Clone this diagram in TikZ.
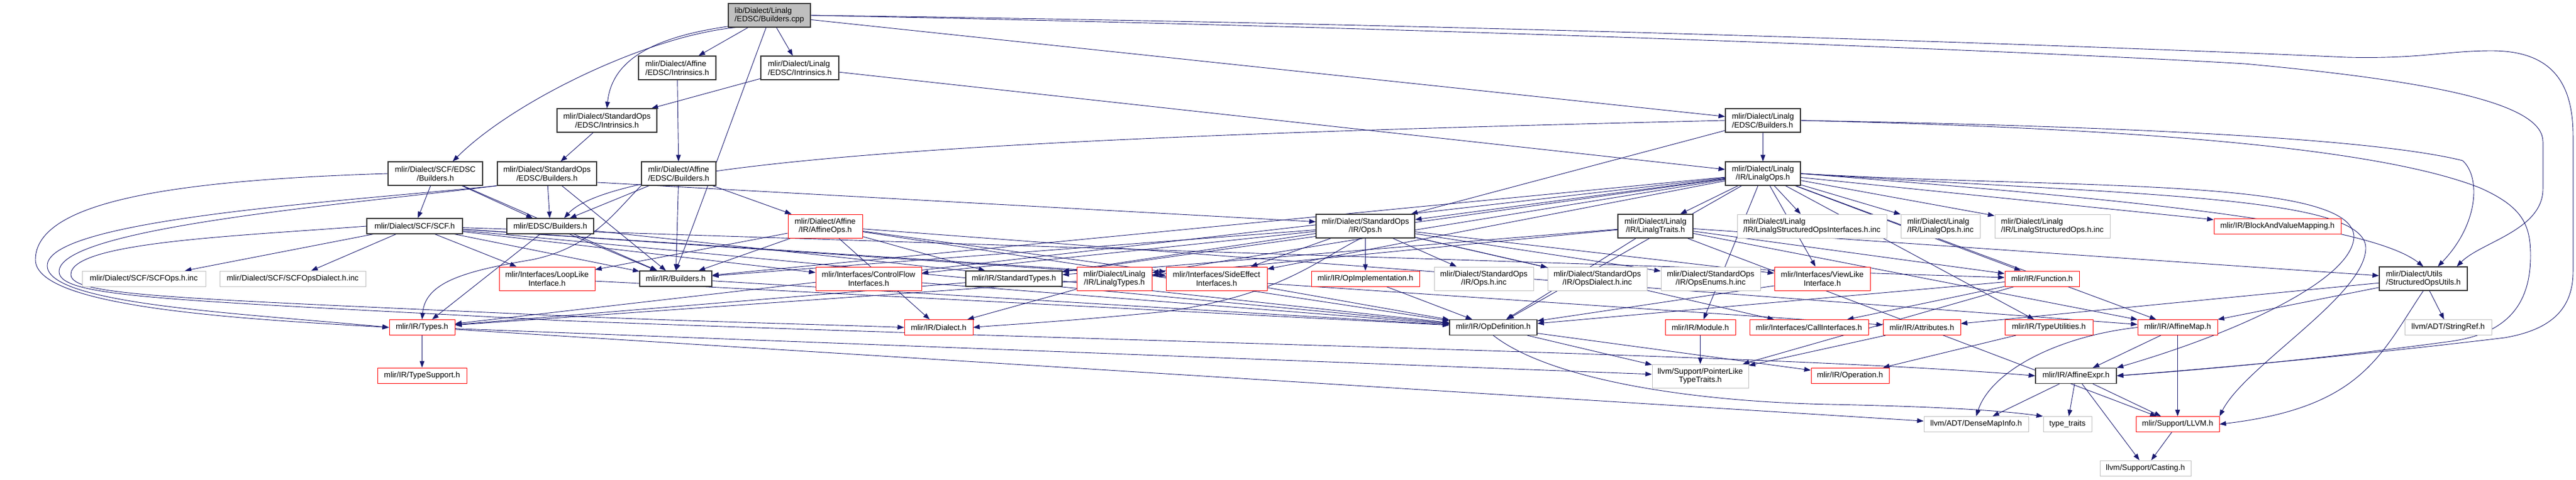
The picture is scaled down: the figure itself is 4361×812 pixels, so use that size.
\documentclass[tikz,border=0pt]{standalone}
\usepackage{fontspec}
\newfontfamily\dfont{Liberation Sans}
\usetikzlibrary{arrows.meta,backgrounds}
\definecolor{edgeblue}{HTML}{191970}
\definecolor{grey75}{HTML}{BFBFBF}
\newcommand{\edg}[2]{\draw[lnk] (#1) -- (#2);}
\begin{document}
\begin{tikzpicture}[x=1pt,y=-1pt,
  box/.style={rectangle,fill=white,inner sep=0pt,line width=1pt,font=\dfont\fontsize{13.3pt}{14.7pt}\selectfont,align=center},
  blk/.style={box,draw=black!80,line width=1.2pt},
  rbox/.style={box,draw=red},
  gbox/.style={box,draw=grey75},
  sz/.style 2 args={minimum width=#1pt,minimum height=#2pt},
  lnk/.style={draw=edgeblue,line width=0.9pt,-{Triangle[length=11pt,width=8pt]}},
]
\useasboundingbox (0,0) rectangle (4361,812);
% ---------- nodes ----------
\node[blk,fill=grey75,align=left,sz={139}{40}] (cpp) at (1302.5,26) {lib/Dialect/Linalg\\/EDSC/Builders.cpp};
\node[blk,align=left,sz={131}{40}] (AEI) at (1146.5,115) {mlir/Dialect/Affine\\/EDSC/Intrinsics.h};
\node[blk,align=left,sz={132}{40}] (LEI) at (1354,115) {mlir/Dialect/Linalg\\/EDSC/Intrinsics.h};
\node[blk,sz={169}{40}] (SOEI) at (1027.5,204) {mlir/Dialect/StandardOps\\/EDSC/Intrinsics.h};
\node[blk,align=left,sz={127}{40}] (LEB) at (2984.5,204) {mlir/Dialect/Linalg\\/EDSC/Builders.h};
\node[blk,sz={160}{40}] (SCFEB) at (737,294) {mlir/Dialect/SCF/EDSC\\/Builders.h};
\node[blk,sz={168}{40}] (SOEB) at (926,294) {mlir/Dialect/StandardOps\\/EDSC/Builders.h};
\node[blk,sz={126}{40}] (AEB) at (1149,294) {mlir/Dialect/Affine\\/EDSC/Builders.h};
\node[blk,sz={127}{40}] (LOps) at (2984.5,294) {mlir/Dialect/Linalg\\/IR/LinalgOps.h};
\node[blk,sz={162}{26}] (SCF) at (702,383) {mlir/Dialect/SCF/SCF.h};
\node[blk,sz={147}{26}] (EB) at (931.5,383) {mlir/EDSC/Builders.h};
\node[rbox,sz={126}{40}] (AOps) at (1397,383) {mlir/Dialect/Affine\\/IR/AffineOps.h};
\node[blk,sz={167}{40}] (SOps) at (2311.5,383) {mlir/Dialect/StandardOps\\/IR/Ops.h};
\node[blk,sz={127}{40}] (LTraits) at (2802.5,383) {mlir/Dialect/Linalg\\/IR/LinalgTraits.h};
\node[gbox,align=left,sz={253}{40}] (LSOI) at (3067.5,383) {mlir/Dialect/Linalg\\/IR/LinalgStructuredOpsInterfaces.h.inc};
\node[gbox,align=left,sz={134}{40}] (LOinc) at (3285,383) {mlir/Dialect/Linalg\\/IR/LinalgOps.h.inc};
\node[gbox,align=left,sz={195}{40}] (LSOinc) at (3474.5,383) {mlir/Dialect/Linalg\\/IR/LinalgStructuredOps.h.inc};
\node[rbox,sz={215}{26}] (BVM) at (3855.5,383) {mlir/IR/BlockAndValueMapping.h};
% row 472
\node[gbox,sz={209}{26}] (SCFOinc) at (243.5,472) {mlir/Dialect/SCF/SCFOps.h.inc};
\node[gbox,sz={247}{26}] (SCFODinc) at (495.5,472) {mlir/Dialect/SCF/SCFOpsDialect.h.inc};
\node[rbox,sz={162}{40}] (LoopLike) at (926,472) {mlir/Interfaces/LoopLike\\Interface.h};
\node[blk,sz={122}{26}] (IRB) at (1144,472) {mlir/IR/Builders.h};
\node[rbox,sz={179}{40}] (CF) at (1470.5,472) {mlir/Interfaces/ControlFlow\\Interfaces.h};
\node[blk,sz={163}{26}] (ST) at (1716.5,472) {mlir/IR/StandardTypes.h};
\node[rbox,sz={127}{40}] (LTypes) at (1886.5,472) {mlir/Dialect/Linalg\\/IR/LinalgTypes.h};
\node[rbox,sz={171}{40}] (SE) at (2059.5,472) {mlir/Interfaces/SideEffect\\Interfaces.h};
\node[rbox,sz={183}{26}] (OpImpl) at (2311.5,472) {mlir/IR/OpImplementation.h};
\node[gbox,sz={168}{40}] (OpsInc) at (2512,472) {mlir/Dialect/StandardOps\\/IR/Ops.h.inc};
\node[gbox,sz={168}{40}] (OpsDInc) at (2704,472) {mlir/Dialect/StandardOps\\/IR/OpsDialect.h.inc};
\node[gbox,sz={168}{40}] (OpsEInc) at (2896,472) {mlir/Dialect/StandardOps\\/IR/OpsEnums.h.inc};
\node[rbox,sz={162}{40}] (VL) at (3085,472) {mlir/Interfaces/ViewLike\\Interface.h};
\node[rbox,sz={126}{26}] (Func) at (3457,472) {mlir/IR/Function.h};
\node[blk,align=left,sz={149}{40}] (SOU) at (4102.5,472) {mlir/Dialect/Utils\\/StructuredOpsUtils.h};
% row 554
\node[rbox,sz={111}{26}] (Types) at (714.5,554.5) {mlir/IR/Types.h};
\node[rbox,sz={116}{26}] (Dialect) at (1589,554.5) {mlir/IR/Dialect.h};
\node[blk,sz={148}{26}] (OpDef) at (2528,554.5) {mlir/IR/OpDefinition.h};
\node[rbox,sz={119}{26}] (Module) at (2878.5,554.5) {mlir/IR/Module.h};
\node[rbox,sz={201}{26}] (CallI) at (3062.5,554.5) {mlir/Interfaces/CallInterfaces.h};
\node[rbox,sz={131}{26}] (Attr) at (3253.5,554.5) {mlir/IR/Attributes.h};
\node[rbox,sz={149}{26}] (TU) at (3468.5,554.5) {mlir/IR/TypeUtilities.h};
\node[rbox,sz={135}{26}] (AMap) at (3686.5,554.5) {mlir/IR/AffineMap.h};
\node[gbox,sz={147}{26}] (StrRef) at (4144.5,554.5) {llvm/ADT/StringRef.h};
% row 636
\node[rbox,sz={151}{26}] (TypeSupport) at (714.5,636) {mlir/IR/TypeSupport.h};
\node[gbox,sz={163}{40}] (PLTT) at (2878.5,637) {llvm/Support/PointerLike\\TypeTraits.h};
\node[rbox,sz={132}{26}] (Operation) at (3132,636) {mlir/IR/Operation.h};
\node[blk,sz={137}{26}] (AExpr) at (3514.5,636.5) {mlir/IR/AffineExpr.h};
% row 718
\node[gbox,sz={177}{26}] (DMI) at (3345.5,718.5) {llvm/ADT/DenseMapInfo.h};
\node[gbox,sz={82}{26}] (TT) at (3500,718.5) {type\_traits};
\node[rbox,sz={141}{26}] (LLVM) at (3686.5,718.5) {mlir/Support/LLVM.h};
\node[gbox,sz={154}{26}] (Casting) at (3632,793) {llvm/Support/Casting.h};
% ---------- edges ----------
\begin{pgfonlayer}{background}
\fill[white] (0,0) rectangle (4361,812);
% cpp
\draw[lnk] (cpp.200) .. controls (1100,60) and (870,170) .. (SCFEB.35);
\draw[lnk] (cpp.195) .. controls (1090,65) and (1035,110) .. (SOEI.north);
\edg{cpp}{AEI}
\edg{cpp}{LEI}
\draw[lnk] (cpp.255) .. controls (1240,200) and (1175,380) .. (IRB.north);
\edg{cpp}{LEB}
\draw[lnk] (cpp.east) .. controls (2500,40) and (3600,80) .. (3972,97) .. controls (4100,100) and (4140,86) .. (4218,86) .. controls (4320,86) and (4356,140) .. (4356,230) -- (4356,460) .. controls (4356,530) and (4310,560) .. (4240,572) .. controls (4050,595) and (3800,620) .. (AExpr.east);
\draw[lnk] (cpp.east) .. controls (2500,48) and (3500,90) .. (3800,108) .. controls (4150,140) and (4305,180) .. (4305,240) -- (4305,320) .. controls (4305,390) and (4200,410) .. (SOU.20);
% intrinsics
\edg{AEI}{AEB}
\edg{LEI}{SOEI}
\edg{LEI}{LOps}
\edg{SOEI}{SOEB}
% SCF/EDSC/Builders
\draw[lnk] (SCFEB.west) .. controls (300,305) and (60,340) .. (60,440) .. controls (60,520) and (400,540) .. (Types.west);
\edg{SCFEB}{SCF}
\edg{SCFEB}{IRB}
\edg{SCFEB}{EB}
% StandardOps/EDSC/Builders
\draw[lnk] (SOEB.south west) .. controls (600,340) and (80,370) .. (80,450) .. controls (80,515) and (400,530) .. (Types.west);
\draw[lnk] (SOEB.south west) .. controls (600,345) and (100,385) .. (100,460) .. controls (100,505) and (300,508) .. (950,543) .. controls (2000,583) and (3000,600) .. (AExpr.west);
\edg{SOEB}{EB}
\edg{SOEB}{IRB}
\draw[lnk] (SOEB.-10) -- (SOps.175);
% Affine/EDSC/Builders
\edg{AEB}{EB}
\edg{AEB}{IRB}
\edg{AEB}{AOps}
\draw[lnk] (AEB.south west) .. controls (1040,360) and (1000,420) .. (900,440) .. controls (780,460) and (720,480) .. (Types.north);
% Linalg/EDSC/Builders
\edg{LEB}{LOps}
\draw[lnk] (LEB.west) .. controls (1800,230) and (1050,265) .. (EB.30);
\edg{LEB}{SOps}
\draw[lnk] (LEB.east) .. controls (3500,212) and (4000,230) .. (4169,272) .. controls (4200,300) and (4196,380) .. (SOU.40);
\draw[lnk] (LEB.east) .. controls (3500,215) and (4000,240) .. (4198,318) .. controls (4270,350) and (4284,380) .. (4284,433) .. controls (4284,520) and (4240,565) .. (4150,578) .. controls (3950,605) and (3750,625) .. (AExpr.east);
% LinalgOps
\edg{LOps}{LTraits}
\edg{LOps}{LTypes}
\edg{LOps}{SOps}
\edg{LOps}{AMap}
\edg{LOps}{BVM}
\edg{LOps}{IRB}
\edg{LOps}{Func}
\edg{LOps}{Module}
\edg{LOps}{OpDef}
\edg{LOps}{ST}
\edg{LOps}{TU}
\edg{LOps}{Types}
\edg{LOps}{SE}
\edg{LOps}{VL}
\edg{LOps}{LSOI}
\edg{LOps}{LOinc}
\edg{LOps}{LSOinc}
\draw[lnk] (LOps.east) .. controls (3500,330) and (4000,370) .. (SOU.north);
\draw[lnk] (LOps.east) .. controls (3500,320) and (3980,300) .. (3985,400) .. controls (3985,470) and (3800,560) .. (AExpr.north east);
\draw[lnk] (LOps.east) .. controls (3600,330) and (4005,330) .. (4005,420) .. controls (4005,500) and (3800,620) .. (LLVM.north east);
% SCF
\edg{SCF}{SCFOinc}
\edg{SCF}{SCFODinc}
\edg{SCF}{LoopLike}
\edg{SCF}{IRB}
\edg{SCF}{CF}
\edg{SCF}{SE}
\edg{SCF}{OpDef}
\edg{SCF}{Func}
\edg{SCF}{Attr}
\draw[lnk] (SCF.west) .. controls (400,400) and (120,410) .. (120,465) .. controls (120,502) and (300,505) .. (1000,537) .. controls (1200,545) and (1400,550) .. (Dialect.west);
% EDSC/Builders
\edg{EB}{Types}
\edg{EB}{IRB}
\edg{EB}{OpDef}
% AffineOps
\edg{AOps}{AMap}
\edg{AOps}{IRB}
\edg{AOps}{OpDef}
\edg{AOps}{ST}
\edg{AOps}{LoopLike}
\edg{AOps}{SE}
\edg{AOps}{Dialect}
% StandardOps/IR/Ops
\edg{SOps}{IRB}
\edg{SOps}{CF}
\edg{SOps}{ST}
\edg{SOps}{SE}
\draw[lnk] (SOps.250) .. controls (2230,440) and (2170,500) .. (1970,528) .. controls (1800,545) and (1700,550) .. (Dialect.east);
\edg{SOps}{OpImpl}
\edg{SOps}{OpsInc}
\edg{SOps}{OpsDInc}
\edg{SOps}{OpsEInc}
\edg{SOps}{VL}
\edg{SOps}{CallI}
% LinalgTraits
\edg{LTraits}{LTypes}
\edg{LTraits}{SOU}
\edg{LTraits}{AMap}
\edg{LTraits}{Func}
\edg{LTraits}{OpDef}
\edg{LTraits}{ST}
\edg{LTraits}{LLVM}
% LinalgTypes
\edg{LTypes}{Types}
\edg{LTypes}{Dialect}
% lower levels
\edg{IRB}{OpDef}
\edg{ST}{Types}
\edg{CF}{OpDef}
\edg{LoopLike}{OpDef}
\edg{SE}{OpDef}
\edg{OpImpl}{OpDef}
\edg{VL}{OpDef}
\edg{Func}{OpDef}
\edg{Func}{CallI}
\edg{Func}{PLTT}
\edg{Module}{PLTT}
\edg{Attr}{PLTT}
\edg{TU}{Operation}
\edg{OpDef}{Operation}
\edg{OpDef}{PLTT}
\draw[lnk] (OpDef.south) .. controls (2620,640) and (2850,680) .. (3100,685) .. controls (3350,690) and (3420,700) .. (TT.north west);
\edg{Types}{TypeSupport}
\edg{Types}{PLTT}
\edg{Types}{DMI}
\edg{AMap}{AExpr}
\edg{AMap}{LLVM}
\draw[lnk] (AMap.west) .. controls (3480,570) and (3370,630) .. (DMI.north);
\edg{AExpr}{DMI}
\edg{AExpr}{TT}
\edg{AExpr}{LLVM}
\edg{AExpr}{Casting}
\edg{LLVM}{Casting}
\edg{SOU}{AMap}
\edg{SOU}{Attr}
\edg{SOU}{StrRef}
\draw[lnk] (SOU.south) .. controls (4030,600) and (4000,690) .. (LLVM.east);
\end{pgfonlayer}
\end{tikzpicture}
\end{document}
